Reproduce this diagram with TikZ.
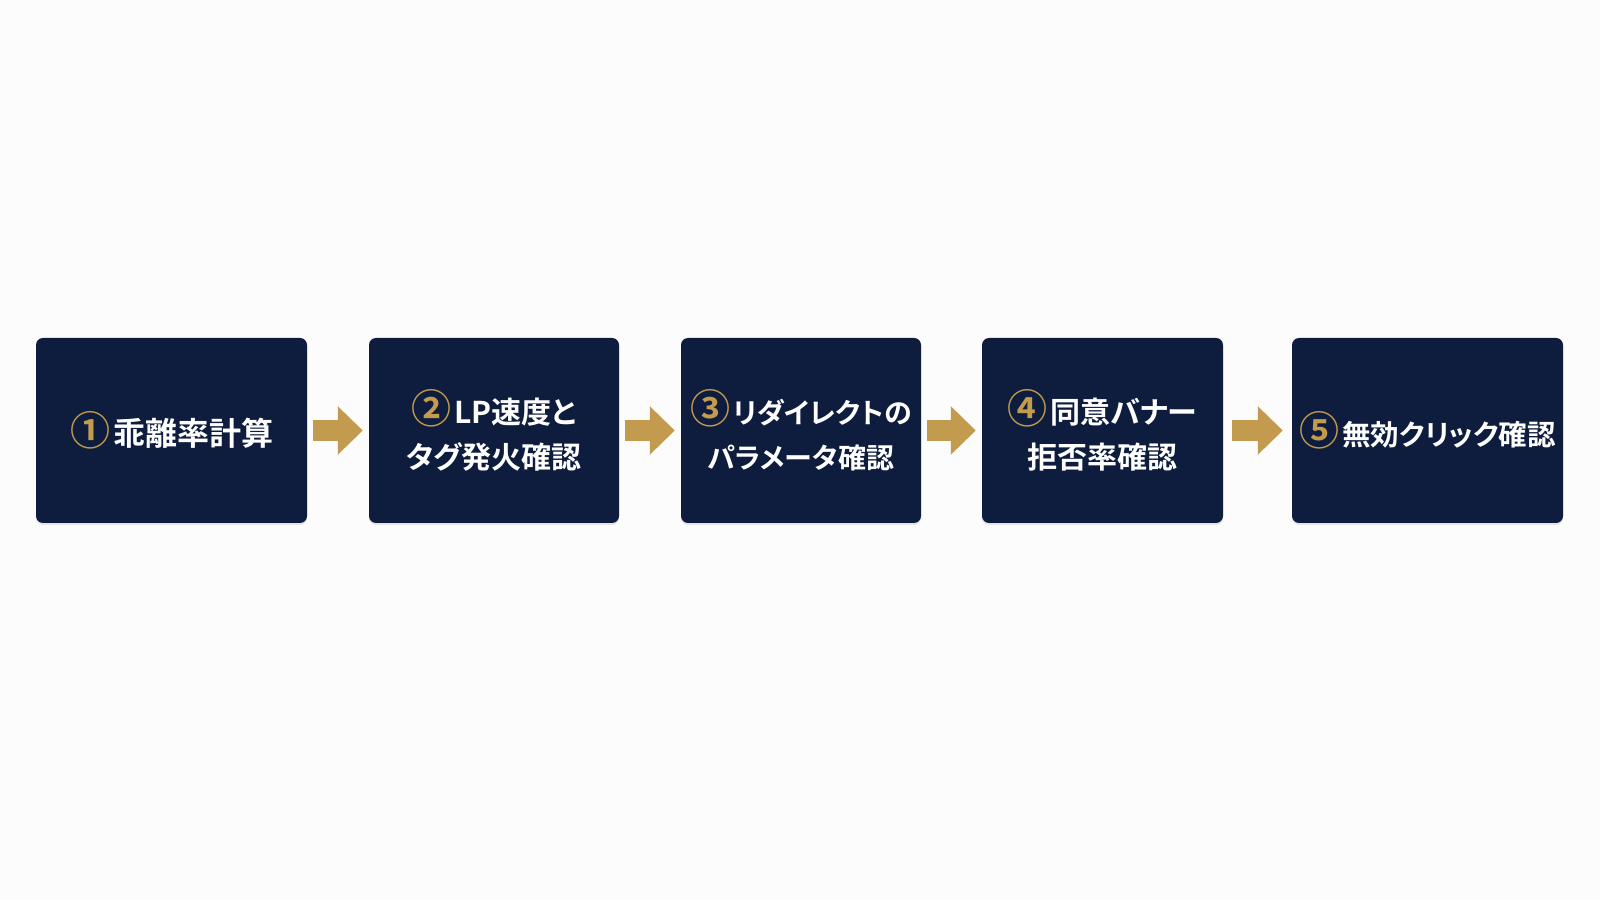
\documentclass[tikz,border=0pt]{standalone}
\usepackage{fontspec}
\usepackage{tikz}
\usetikzlibrary{arrows.meta,shadows}
\newfontfamily\jpfont{Noto Sans CJK JP}[BoldFont={* Bold}, RawFeature=+palt]
\definecolor{navy}{HTML}{0E1D3E}
\definecolor{gold}{HTML}{C39B4E}
\newcommand{\stepno}[1]{{\fontsize{40pt}{45pt}\selectfont\textcolor{gold}{#1}}\hspace{3pt}}

\begin{document}
\begin{tikzpicture}[
      x = 1pt, y = 1pt,
      fs/.style = {font = \jpfont\bfseries\fontsize{#1}{45pt}\selectfont},
      every node/.style = {
        rectangle, rounded corners = 7pt, fill = navy, text = white,
        minimum height = 185pt, align = center, inner sep = 0pt,
        drop shadow = {opacity = .18, shadow xshift = 0pt, shadow yshift = -2pt},
        fs = 30pt},
      every path/.style = {gold}
      ]
    \fill[white!99!black] (0,0) rectangle (1600,900);
    \node[minimum width = 271pt, fs = 32pt] (S1) at (171.5,469.5) {\stepno{①}乖離率計算}; % 0
    \node[minimum width = 250pt] (S2) at (494,469.5) {\stepno{②}LP速度と\\タグ発火確認}; % 1
    \node[minimum width = 240pt, fs = 28pt] (S3) at (801,469.5) {\stepno{③}リダイレクトの\\パラメータ確認}; % 2
    \node[minimum width = 241pt] (S4) at (1102.5,469.5) {\stepno{④}同意バナー\\拒否率確認}; % 3
    \node[minimum width = 271pt, fs = 28.5pt] (S5) at (1427.5,469.5) {\stepno{⑤}無効クリック確認}; % 4
    \begin{scope}[every path/.style = {
        gold, line width = 21pt, shorten < = 6pt, shorten > = 6pt,
        -{Triangle[length = 25pt, width = 47pt]}}]
      \draw (S1)--(S2);
      \draw (S2)--(S3);
      \draw (S3)--(S4);
      \draw[shorten < = 9pt, shorten > = 9pt] (S4)--(S5);
    \end{scope}
  \end{tikzpicture}
\end{document}
